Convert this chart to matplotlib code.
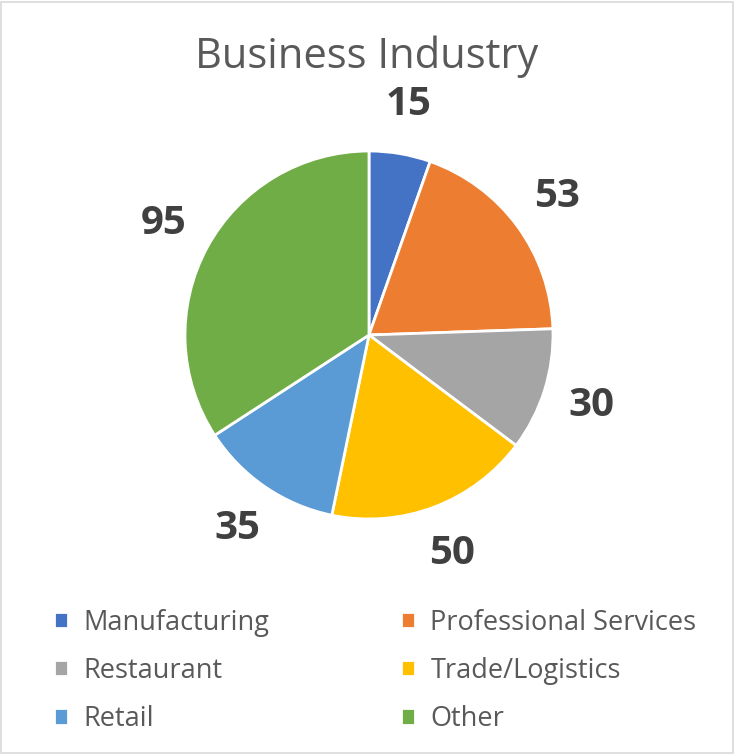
import matplotlib.pyplot as plt
from matplotlib.patches import Rectangle

# data
categories = ["Manufacturing", "Professional Services", "Restaurant",
              "Trade/Logistics", "Retail", "Other"]
values = [15, 53, 30, 50, 35, 95]
colors = ["#4472C4", "#ED7D31", "#A5A5A5", "#FFC000", "#5B9BD5", "#70AD47"]

plt.rcParams['font.family'] = ['Open Sans', 'DejaVu Sans']

fig = plt.figure(figsize=(7.34, 7.55), dpi=100)
fig.patches.append(Rectangle((0.002, 0.002), 0.996, 0.996, transform=fig.transFigure,
                             fill=False, edgecolor="#D9D9D9", linewidth=1.2))

# pie area, centre ~ (369, 335) px, radius ~184 px
r_px = 184
ax = fig.add_axes([(369 - r_px) / 734, 1 - (335 + r_px) / 755, 2 * r_px / 734, 2 * r_px / 755])
wedges, texts = ax.pie(values, colors=colors, startangle=90, counterclock=False,
                       labels=[str(v) for v in values], labeldistance=1.27,
                       wedgeprops=dict(edgecolor="white", linewidth=2))
for t in texts:
    t.set_fontsize(29)
    t.set_fontweight("bold")
    t.set_color("#404040")
    t.set_ha("center")
    t.set_va("center")
ax.set_aspect("equal")
ax.set_xlim(-1, 1)
ax.set_ylim(-1, 1)

fig.text(0.5, 1 - 57 / 755, "Business Industry", ha="center", va="center",
         fontsize=30, color="#595959")

# legend fills row by row in the reference
order = [0, 2, 4, 1, 3, 5]
fig.legend([wedges[i] for i in order], [categories[i] for i in order], ncol=2,
           loc="upper left", bbox_to_anchor=(40 / 734, 1 - 595 / 755), frameon=False,
           fontsize=19.5, labelcolor="#595959", handlelength=0.55, handleheight=0.55,
           handletextpad=0.55, columnspacing=4.85, labelspacing=0.75, borderpad=0)

fig.savefig("out.png", dpi=100)
